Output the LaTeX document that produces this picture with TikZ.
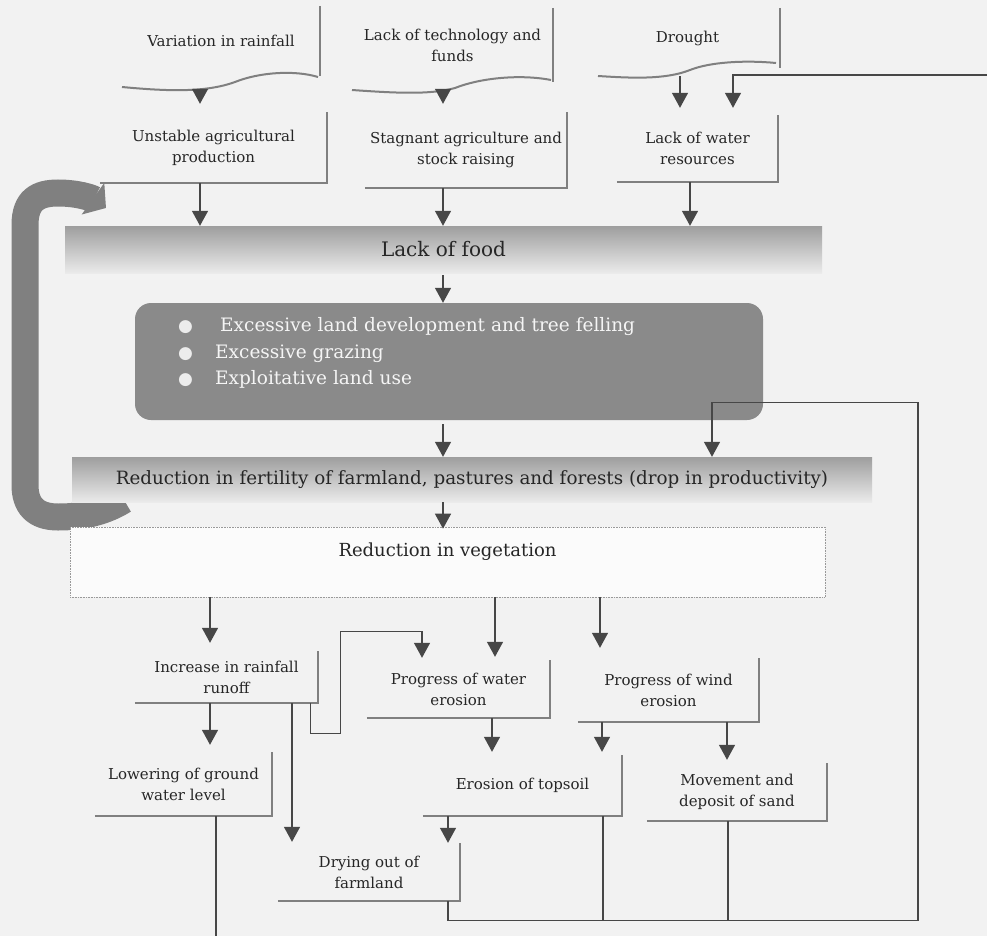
\documentclass[tikz,border=0pt]{standalone}
\usepackage{fontspec}
\setmainfont{DejaVu Serif}
\newfontfamily\bulfont{DejaVu Sans}
\usetikzlibrary{arrows.meta,calc}
\newcommand\mybul{\makebox[37pt][l]{{\bulfont\fontsize{17}{17}\selectfont\color{white!85!gray}●}}}
\begin{document}
\begin{tikzpicture}[x=1pt,y=-1pt,
  boxtxt/.style={align=center, inner sep=0pt, text=black!85, font=\fontsize{15}{21}\selectfont},
  bedge/.style={draw=black!50, line width=2pt},
  arr/.style={draw=black!72, line width=1.4pt, -{Triangle[width=16pt,length=15pt]}},
  conn/.style={draw=black!72, line width=1.4pt},
  band/.style={inner sep=0pt, text=black!85, top color=black!38, bottom color=black!8},
]
\useasboundingbox[fill=black!5] (0,0) rectangle (987,936);

% C-shaped feedback arrow
\draw[black!50, line width=27pt, line cap=butt, -{Triangle[width=38pt,length=16pt]}]
  (124,500) .. controls (100,515) and (75,517) .. (58,517)
  .. controls (35,517) and (25,505) .. (25,485) -- (25,225)
  .. controls (25,200) and (38,193) .. (58,193)
  .. controls (78,193) and (92,198) .. (106,208);

% top row
\node[boxtxt, minimum width=198, minimum height=70] (var) at (221,41) {Variation in rainfall};
\node[boxtxt, minimum width=201, minimum height=74] (tech) at (452.5,45) {Lack of technology and\\funds};
\node[boxtxt, minimum width=185, minimum height=60] (drought) at (687.5,38) {Drought};
\draw[bedge] (var.north east) -- (var.south east);
\draw[bedge] (122,87) .. controls (165,91) and (205,93) .. (235,82) .. controls (260,72) and (295,70) .. (318,77);
\draw[bedge] (tech.north east) -- (tech.south east);
\draw[bedge] (352,90) .. controls (395,93) and (430,95) .. (455,88) .. controls (480,78) and (520,74) .. (551,80);
\draw[bedge] (drought.north east) -- (drought.south east);
\draw[bedge] (598,76) .. controls (630,78) and (665,80) .. (690,70) .. controls (710,62) and (745,60) .. (776,63);

% second row
\node[boxtxt, minimum width=227, minimum height=71] (unstable) at (213.5,147.5) {Unstable agricultural\\production};
\node[boxtxt, minimum width=202, minimum height=76] (stagnant) at (466,150) {Stagnant agriculture and\\stock raising};
\node[boxtxt, minimum width=161, minimum height=67] (water) at (697.5,148.5) {Lack of water\\resources};
\foreach \n in {unstable,stagnant,water}
  \draw[bedge] (\n.south west) -- (\n.south east) -- (\n.north east);

\draw[arr] ($(var.south)+(-21,13)$) -- ($(unstable.north)+(-13.5,-8)$);
\draw[arr] ($(tech.south)+(-9.5,10)$) -- ($(stagnant.north)+(-23,-8)$);
\draw[arr] ($(drought.south)+(-7.5,8)$) -- ($(water.north)+(-17.5,-7)$);
\coordinate (offr) at (987,75);
\draw[arr] (offr) -| ($(water.north)+(35.5,-7)$);

% lack of food
\node[band, minimum width=757, minimum height=47, font=\fontsize{20}{24}\selectfont] (food) at (443.5,249.5) {Lack of food};
\draw[arr] ($(unstable.south)+(-13.5,0)$) -- ($(food.north)+(-243.5,0)$);
\draw[arr] ($(stagnant.south)+(-23,0)$) -- ($(food.north)+(-0.5,0)$);
\draw[arr] ($(water.south)+(-7.5,0)$) -- ($(food.north)+(246.5,0)$);

% activities box
\node[fill=black!46, rounded corners=16pt, minimum width=628, minimum height=117, inner sep=0pt] (acts) at (449,361.5) {};
\node[anchor=west, align=left, inner sep=0pt, text=white!92!gray, font=\fontsize{18.5}{26.5}\selectfont] (actstxt) at (178,353)
  {\mybul\hspace{5pt}Excessive land development and tree felling\\\mybul Excessive grazing\\\mybul Exploitative land use};
\draw[arr] ($(food.south)+(-0.5,2)$) -- ($(acts.north)+(-6,0)$);

% fertility
\node[band, minimum width=800, minimum height=45, font=\fontsize{18.3}{22}\selectfont] (fert) at (472,479.5) {Reduction in fertility of farmland, pastures and forests (drop in productivity)};
\draw[arr] ($(acts.south)+(-6,4)$) -- ($(fert.north)+(-29,0)$);

% vegetation
\node[inner sep=0pt, fill=white!85!gray!20, draw=black!40, densely dotted, line width=0.6pt, minimum width=755, minimum height=70, text=black!85, font=\fontsize{18}{22}\selectfont] (veg) at (447.5,562) {\raisebox{24pt}{Reduction in vegetation}};
\draw[arr] ($(fert.south)+(-29,0)$) -- ($(veg.north)+(-4.5,2)$);

% third row
\node[boxtxt, minimum width=183, minimum height=52] (runoff) at (226.5,677) {Increase in rainfall\\runoff};
\node[boxtxt, minimum width=183, minimum height=58] (werosion) at (458.5,689) {Progress of water\\erosion};
\node[boxtxt, minimum width=181, minimum height=64] (wind) at (668.5,690) {Progress of wind\\erosion};
\foreach \n in {runoff,werosion,wind}
  \draw[bedge] (\n.south west) -- (\n.south east) -- (\n.north east);
\draw[arr] ($(veg.south)+(-237.5,0)$) -- ($(runoff.north)+(-16.5,-8)$);
\draw[arr] ($(veg.south)+(47.5,0)$) -- ($(werosion.north)+(36.5,-3)$);
\draw[arr] ($(veg.south)+(152.5,0)$) -- ($(wind.north)+(-68.5,-10)$);
\draw[arr] ($(runoff.south east)+(-8,0)$) -- ++(0,30) -- ++(30,0) -- ++(0,-102) -| ($(werosion.north)+(-36.5,-2)$);

% fourth row
\node[boxtxt, minimum width=177, minimum height=64] (lowering) at (183.5,784) {Lowering of ground\\water level};
\node[boxtxt, minimum width=199, minimum height=61] (topsoil) at (522.5,785.5) {Erosion of topsoil};
\node[boxtxt, minimum width=180, minimum height=58] (sand) at (737,792) {Movement and\\deposit of sand};
\node[boxtxt, minimum width=182, minimum height=58] (drying) at (369,872) {Drying out of\\farmland};
\foreach \n in {lowering,topsoil,sand,drying}
  \draw[bedge] (\n.south west) -- (\n.south east) -- (\n.north east);

\draw[arr] ($(runoff.south)+(-16.5,0)$) -- ($(lowering.north)+(26.5,-7)$);
\draw[arr] ($(runoff.south)+(65.5,0)$) -- ($(drying.north)+(-77,-1)$);
\draw[arr] ($(werosion.south)+(33.5,0)$) -- ($(topsoil.north)+(-30.5,-3)$);
\draw[arr] ($(wind.south)+(-66.5,0)$) -- ($(topsoil.north)+(79.5,-3)$);
\draw[arr] ($(wind.south)+(58.5,0)$) -- ($(sand.north)+(-10,-3)$);
\draw[arr] ($(topsoil.south)+(-74.5,0)$) -- ($(drying.north)+(79,0)$);

\coordinate (offb) at (216,936);
\draw[conn] ($(lowering.south)+(32.5,0)$) -- (offb);
\draw[arr] ($(drying.south)+(79,0)$) -- ++(0,19) -- ++(470,0) -- ++(0,-518) -- ++(-206,0) -- ($(fert.north)+(240,0)$);
\draw[conn] ($(topsoil.south)+(80.5,0)$) -- ++(0,104);
\draw[conn] ($(sand.south)+(-9,0)$) -- ++(0,99);
\end{tikzpicture}
\end{document}
